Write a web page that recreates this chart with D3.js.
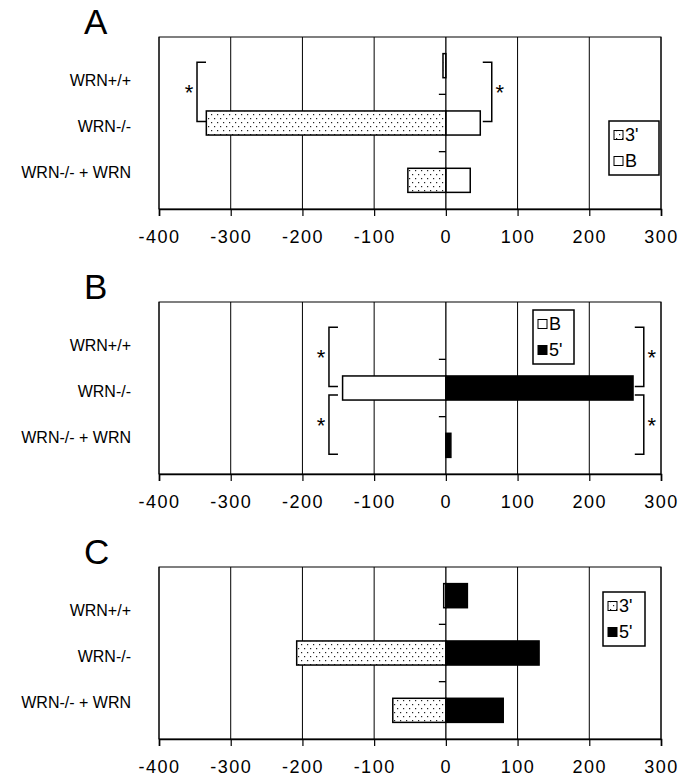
<!DOCTYPE html>
<html>
<head>
<meta charset="utf-8">
<script src="https://cdn.jsdelivr.net/npm/d3@7/dist/d3.min.js"></script>
<style>
    body { margin: 0; background: #fff; }
    svg { display: block; }
    text { font-family: "Liberation Sans", Arial, Helvetica, sans-serif; fill: #000; }
</style>
</head>
<body>
<svg id="chart" width="680" height="776"></svg>
<script>
// --- data -------------------------------------------------------------
const categories = ['WRN+/+', 'WRN-/-', 'WRN-/- + WRN'];
const xTicks = [-400, -300, -200, -100, 0, 100, 200, 300];
const panelNames = ['A', 'B', 'C'];

// panel A : 3' (left) and B (right)
const seriesA = ["3'", 'B'];
const leftA = [-4, -334, -53];
const rightA = [0, 48, 34];

// panel B : B (left) and 5' (right)
const seriesB = ['B', "5'"];
const leftB = [0, -144, 0];
const rightB = [0, 261, 7];

// panel C : 3' (left) and 5' (right)
const seriesC = ["3'", "5'"];
const leftC = [-3, -208, -74];
const rightC = [30, 130, 80];

// significance brackets: category span and x value
const bracketsA = [
    { from: 0, to: 1, value: -347, side: 'left' },
    { from: 0, to: 1, value: 64, side: 'right' }
];
const bracketsB = [
    { from: 0, to: 1, value: -163, side: 'left' },
    { from: 1, to: 2, value: -163, side: 'left' },
    { from: 0, to: 1, value: 276, side: 'right' },
    { from: 1, to: 2, value: 276, side: 'right' }
];
const bracketsC = [];

// --- layout -----------------------------------------------------------
const plotLeft = 159, plotRight = 661;
const plotHeight = 172, firstTop = 37, panelStep = 265;

const fills = { "3'": 'url(#dots)', 'B': '#fff', "5'": '#000' };

const panels = [
    { name: panelNames[0], series: seriesA, left: leftA, right: rightA, brackets: bracketsA, legend: { x: 450, y: 84, w: 50 } },
    { name: panelNames[1], series: seriesB, left: leftB, right: rightB, brackets: bracketsB, legend: { x: 374, y: 8, w: 41 } },
    { name: panelNames[2], series: seriesC, left: leftC, right: rightC, brackets: bracketsC, legend: { x: 444, y: 25, w: 42 } }
];

const svg = d3.select('#chart');

// dotted fill used for the 3' series
const pat = svg.append('defs').append('pattern')
    .attr('id', 'dots')
    .attr('width', 6).attr('height', 8)
    .attr('patternUnits', 'userSpaceOnUse');
pat.append('rect').attr('width', 6).attr('height', 8).attr('fill', '#fff');
pat.append('rect').attr('x', 1).attr('y', 1).attr('width', 1.2).attr('height', 1.2).attr('fill', '#222');
pat.append('rect').attr('x', 4).attr('y', 5).attr('width', 1.2).attr('height', 1.2).attr('fill', '#222');

const x = d3.scaleLinear().domain([-400, 300]).range([0, plotRight - plotLeft]);
const y = d3.scaleBand().domain(categories).range([0, plotHeight]);
const yLabel = d3.scalePoint().domain(categories).range([43, 135]);
const barH = y.bandwidth() * 0.42;

panels.forEach((p, i) => {
    const top = firstTop + i * panelStep;
    const g = svg.append('g').attr('transform', `translate(${plotLeft},${top})`);

    // panel letter
    svg.append('text')
        .attr('x', 84).attr('y', top - 3)
        .attr('font-size', 35)
        .text(p.name);

    // vertical grid lines
    g.selectAll('.grid')
        .data(xTicks.filter(t => t !== 0))
        .join('line')
        .attr('x1', d => x(d)).attr('x2', d => x(d))
        .attr('y1', 0).attr('y2', plotHeight)
        .attr('stroke', '#000').attr('stroke-width', 1);

    // frame
    g.append('rect')
        .attr('width', x.range()[1]).attr('height', plotHeight)
        .attr('fill', 'none').attr('stroke', '#000').attr('stroke-width', 1);

    // bottom axis (plain hyphen for negatives, as in the original)
    const ax = g.append('g')
        .attr('transform', `translate(0,${plotHeight})`)
        .call(d3.axisBottom(x).tickValues(xTicks).tickFormat(d => String(d))
            .tickSize(7).tickPadding(14).tickSizeOuter(7));
    ax.select('.domain').attr('stroke-width', 1.6);
    ax.selectAll('.tick line').attr('stroke-width', 1.2);
    ax.selectAll('text')
        .attr('font-family', '"Liberation Sans", Arial, sans-serif')
        .attr('font-size', 18)
        .attr('letter-spacing', 1.5)
        .attr('fill', '#000');

    // category labels
    g.selectAll('.cat')
        .data(categories)
        .join('text')
        .attr('x', 131 - plotLeft)
        .attr('y', d => yLabel(d))
        .attr('dy', '0.35em')
        .attr('text-anchor', 'end')
        .attr('font-size', 16)
        .text(d => d);

    // bars, left series then right series
    const bars = [];
    categories.forEach((c, k) => {
        if (p.left[k] !== 0) bars.push({ cat: c, v: p.left[k], s: p.series[0] });
        if (p.right[k] !== 0) bars.push({ cat: c, v: p.right[k], s: p.series[1] });
    });
    g.selectAll('.bar')
        .data(bars)
        .join('rect')
        .attr('x', d => x(Math.min(0, d.v)))
        .attr('width', d => Math.abs(x(d.v) - x(0)))
        .attr('y', d => y(d.cat) + (y.bandwidth() - barH) / 2)
        .attr('height', barH)
        .attr('fill', d => fills[d.s])
        .attr('stroke', '#000').attr('stroke-width', 1.5);

    // category axis at zero
    g.append('line')
        .attr('x1', x(0)).attr('x2', x(0))
        .attr('y1', 0).attr('y2', plotHeight)
        .attr('stroke', '#000').attr('stroke-width', 1.3);
    g.selectAll('.ytick')
        .data(categories.slice(1))
        .join('line')
        .attr('x1', x(0) - 7).attr('x2', x(0))
        .attr('y1', d => y(d)).attr('y2', d => y(d))
        .attr('stroke', '#000').attr('stroke-width', 1.3);

    // significance brackets
    p.brackets.forEach(b => {
        const shift = b.from === 0 ? -2.5 : 8;
        const y1 = y(categories[b.from]) + y.bandwidth() / 2 + shift - 1;
        const y2 = y(categories[b.to]) + y.bandwidth() / 2 + shift + 1;
        const bx = x(b.value);
        const arm = b.side === 'left' ? 9 : -9;
        g.append('path')
            .attr('d', `M${bx + arm},${y1}H${bx}V${y2}H${bx + arm}`)
            .attr('fill', 'none').attr('stroke', '#000').attr('stroke-width', 1.5);
        g.append('text')
            .attr('x', bx + (b.side === 'left' ? -8 : 8))
            .attr('y', (y1 + y2) / 2 + 8)
            .attr('text-anchor', 'middle')
            .attr('font-size', 22)
            .text('*');
    });

    // legend
    const lg = g.append('g').attr('transform', `translate(${p.legend.x},${p.legend.y})`);
    lg.append('rect')
        .attr('width', p.legend.w).attr('height', 54)
        .attr('fill', '#fff').attr('stroke', '#000').attr('stroke-width', 1.5);
    p.series.forEach((s, k) => {
        const cy = 14 + k * 26;
        lg.append('rect')
            .attr('x', 5).attr('y', cy - 4.5)
            .attr('width', 9).attr('height', 9)
            .attr('fill', fills[s]).attr('stroke', '#000').attr('stroke-width', 1);
        lg.append('text')
            .attr('x', 16).attr('y', cy)
            .attr('dy', '0.36em')
            .attr('font-size', 18)
            .text(s);
    });
});
</script>
</body>
</html>
